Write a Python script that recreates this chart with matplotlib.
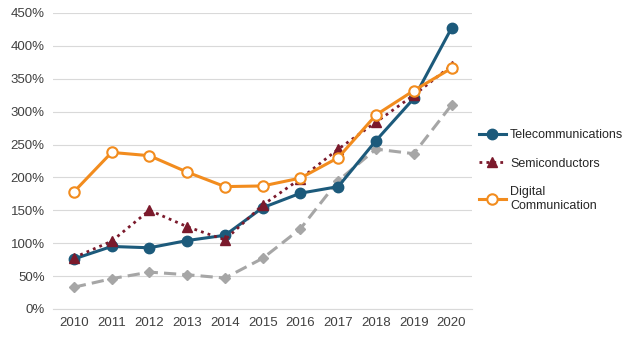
import matplotlib.pyplot as plt
from matplotlib.ticker import FuncFormatter

years = [2010, 2011, 2012, 2013, 2014, 2015, 2016, 2017, 2018, 2019, 2020]
telecom = [76, 95, 93, 104, 112, 154, 176, 186, 256, 320, 427]
semis = [78, 103, 150, 125, 105, 158, 198, 243, 284, 325, 370]
digital = [178, 238, 233, 208, 186, 187, 199, 230, 295, 332, 366]
other = [33, 46, 56, 52, 47, 77, 122, 195, 243, 236, 310]


def main():
    plt.rcParams['font.family'] = ['Liberation Sans', 'DejaVu Sans']
    fig = plt.figure(figsize=(6.4, 3.41), dpi=100)
    ax = fig.add_axes([0.083, 0.094, 0.655, 0.868])

    ax.plot(years, other, color='#a6a6a6', lw=2.2, ls=(0, (4, 2)),
            marker='D', ms=5.5, label='_nolegend_', zorder=2)
    ax.plot(years, telecom, color='#1c5a7b', lw=2.2, marker='o', ms=7.5,
            label='Telecommunications', zorder=3)
    ax.plot(years, semis, color='#7b1a2c', lw=2, ls=(0, (1, 1.5)), marker='^', ms=7,
            label='Semiconductors', zorder=4)
    ax.plot(years, digital, color='#f28c1e', lw=2.2, marker='o', ms=7.5,
            markerfacecolor='white', markeredgewidth=1.5,
            label='Digital\nCommunication', zorder=5)

    ax.set_ylim(0, 450)
    ax.set_yticks(range(0, 451, 50))
    ax.yaxis.set_major_formatter(FuncFormatter(lambda v, p: f"{v:.0f}%"))
    ax.set_xlim(2009.45, 2020.55)
    ax.set_xticks(years)
    ax.grid(axis='y', color='#d9d9d9', lw=0.8)
    ax.set_axisbelow(True)
    for s in ['top', 'right', 'left']:
        ax.spines[s].set_visible(False)
    ax.spines['bottom'].set_color('#d9d9d9')
    ax.tick_params(length=0, labelsize=9.5, colors='#404040', pad=6)

    fig.legend(loc='center left', bbox_to_anchor=(0.748, 0.5), frameon=False,
               fontsize=9, handlelength=2.2, labelspacing=1.3, handletextpad=0.3,
               borderpad=0, borderaxespad=0, labelcolor='#262626')
    fig.savefig('out.png', dpi=100)
    plt.close()


if __name__ == '__main__':
    main()
